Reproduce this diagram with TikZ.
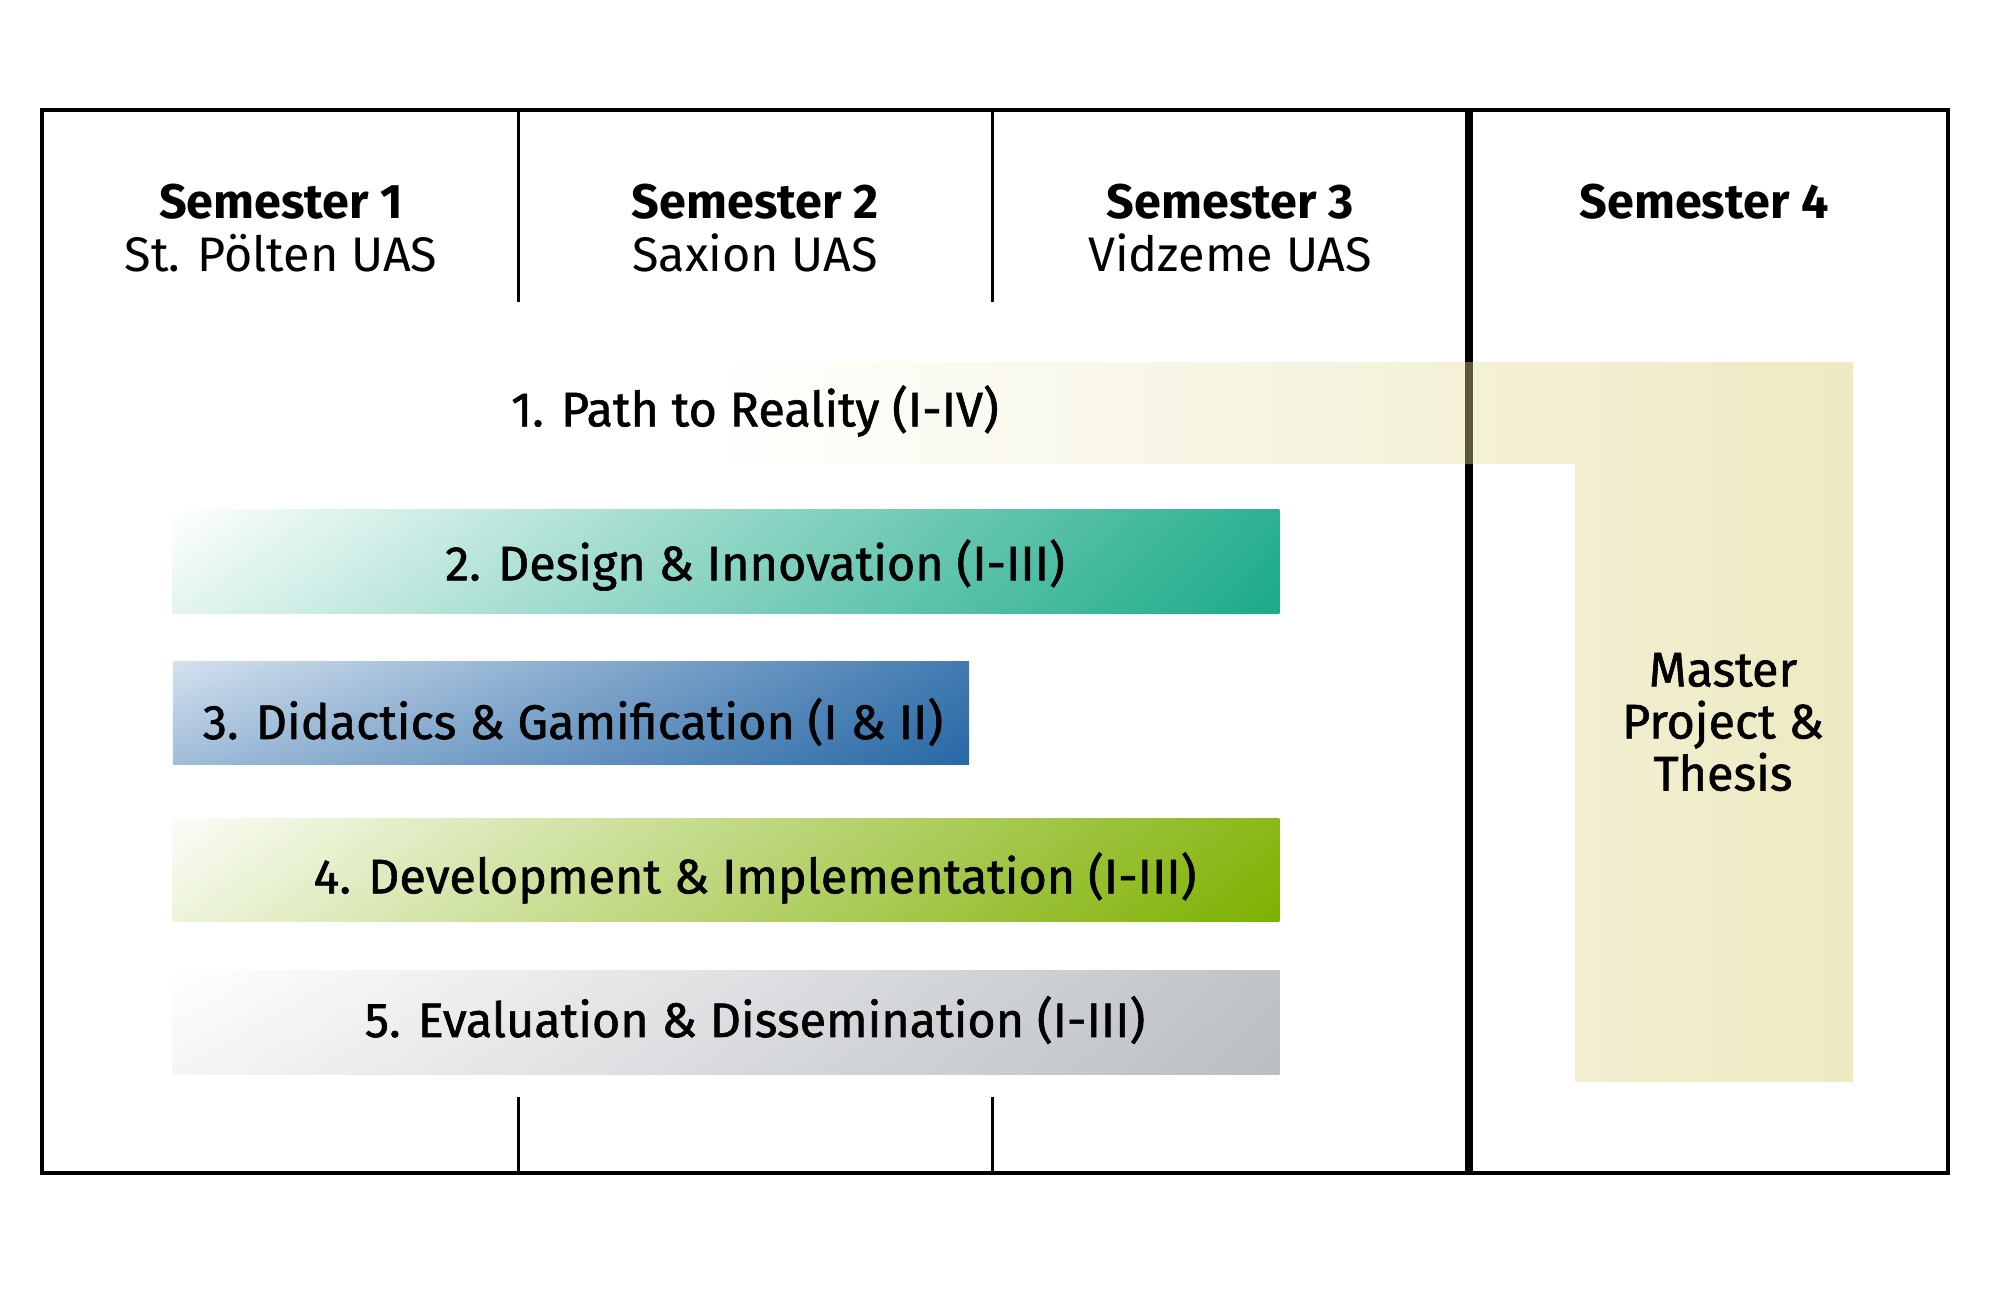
\documentclass[tikz,border=0pt]{standalone}
\usepackage{fontspec}
\usetikzlibrary{shadings}
\setmainfont{Fira Sans}
\newfontfamily\medfont{Fira Sans}[FakeBold=1.2]
\definecolor{tealC}{RGB}{26,170,136}
\definecolor{blueC}{RGB}{40,104,166}
\definecolor{blueL}{RGB}{212,225,238}
\definecolor{greenC}{RGB}{126,176,0}
\definecolor{greyC}{RGB}{186,190,195}
\definecolor{oliveC}{RGB}{212,202,104}
\tikzset{
  frame/.style={draw=black, line width=1.15pt},
  divider/.style={draw=black, line width=0.85pt},
  bigdivider/.style={draw=black, line width=2.2pt},
  bar/.style={inner sep=0pt, outer sep=0pt},
  head/.style={align=center, font=\fontsize{13.8pt}{15pt}\selectfont, inner sep=0pt},
  lbl/.style={font=\medfont\fontsize{13.8pt}{14.8pt}\selectfont, inner sep=0pt},
}
\begin{document}
\begin{tikzpicture}[x=0.01cm,y=-0.01cm]
\useasboundingbox (0,0) rectangle (2000,1300);
% frame and dividers
\draw[frame] (42,110) rectangle (1948,1173);
\draw[divider] (518,110) -- (518,302);
\draw[divider] (992,110) -- (992,302);
\draw[divider] (518,1097) -- (518,1173);
\draw[divider] (992,1097) -- (992,1173);
\draw[bigdivider] (1469,110) -- (1469,1173);
% headers
\node[head] (s1) at (281,228) {\textbf{Semester 1}\\St. Pölten UAS};
\node[head] (s2) at (755,228) {\textbf{Semester 2}\\Saxion UAS};
\node[head] (s3) at (1230,228) {\textbf{Semester 3}\\Vidzeme UAS};
\node[head] (s4) at (1704,202) {\textbf{Semester 4}};
% bars
\node[bar, minimum width=11.06cm, minimum height=1.03cm,
  upper left=white, upper right=tealC!92, lower left=tealC!12, lower right=tealC] (b2) at (726,561.5) {};
\node[bar, minimum width=7.96cm, minimum height=1.02cm,
  upper left=blueL, upper right=blueC!88, lower left=blueC!30!blueL, lower right=blueC] (b3) at (571,713) {};
\node[bar, minimum width=11.06cm, minimum height=1.02cm,
  upper left=greenC!3, upper right=greenC!90, lower left=greenC!14, lower right=greenC] (b4) at (726,870) {};
\node[bar, minimum width=11.06cm, minimum height=1.03cm,
  upper left=white, upper right=greyC!92, lower left=greyC!15, lower right=greyC] (b5) at (726,1022.5) {};
% L-shaped bar 1 (translucent)
\shade[left color=white, right color=oliveC, fill opacity=0.4]
  (700,362) -- (1853,362) -- (1853,1082) -- (1575,1082) -- (1575,464) -- (700,464) -- cycle;
% labels
\node[lbl] (l1) at (755,411) {1. Path to Reality (I-IV)};
\node[lbl] (l2) at (755,565) {2. Design \& Innovation (I-III)};
\node[lbl] (l3) at (573,722) {3. Didactics \& Gamification (I \& II)};
\node[lbl] (l4) at (755,878) {4. Development \& Implementation (I-III)};
\node[lbl] (l5) at (755,1020) {5. Evaluation \& Dissemination (I-III)};
\node[lbl, align=center] (m) at (1723,722) {Master\\Project \&\\Thesis};
\end{tikzpicture}
\end{document}
